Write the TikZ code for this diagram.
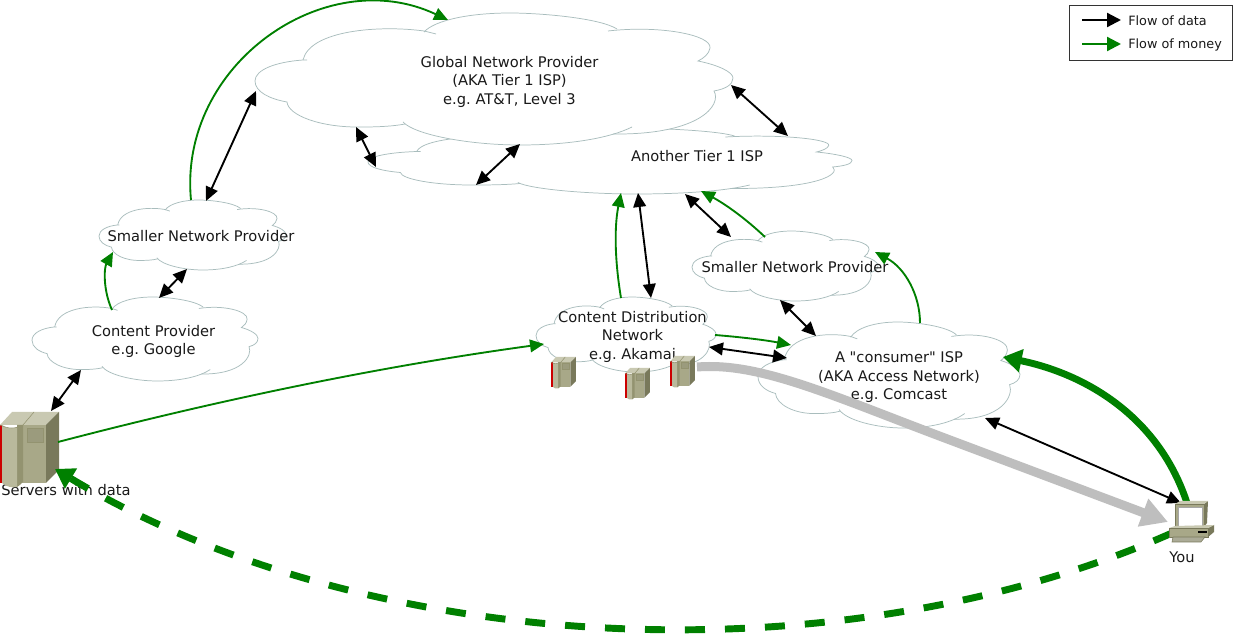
\documentclass[tikz,border=0pt]{standalone}
\usepackage{fontspec}
\setmainfont[Ligatures=TeXOff]{DejaVu Sans}
\frenchspacing
\usetikzlibrary{arrows.meta}
\definecolor{cloudline}{HTML}{A9BDBD}
\definecolor{money}{HTML}{008000}
\definecolor{pipe}{HTML}{BEBEBE}
\definecolor{sTop}{HTML}{C9C9B2}
\definecolor{sSide}{HTML}{79795B}
\definecolor{sFront}{HTML}{A8A888}
\definecolor{sLight}{HTML}{B9B99C}
\definecolor{sDark}{HTML}{939370}
\definecolor{sRed}{HTML}{CC0000}
\tikzset{
  x=0.75pt,y=-0.75pt,
  lbl/.style={font=\fontsize{11}{13.9}\selectfont,align=center,inner sep=0pt,text=black!90},
  smalllbl/.style={font=\fontsize{9.6}{11}\selectfont,anchor=west,inner sep=0pt,text=black!90},
  data/.style={draw=black,line width=1.4pt,{Triangle[length=10.5pt,width=9.5pt]}-{Triangle[length=10.5pt,width=9.5pt]}},
  cash/.style={draw=money,line width=1.4pt,-{Triangle[length=10.5pt,width=9.5pt]}},
  bigcash/.style={draw=money,line width=5.2pt,-{Triangle[length=14pt,width=17pt]}},
  pipeflow/.style={draw=pipe,line width=6.75pt,-{Triangle[length=20pt,width=21pt]}},
  cloudedge/.style={draw=cloudline,line width=0.55pt},
  pcedge/.style={draw=sSide,line width=0.4pt},
}
\newcommand{\netcloud}[4]{%
\begin{scope}[shift={(#1,#2)},xscale={(#3-#1)/478},yscale={(#4-#2)/132},shift={(-255,-13)}]
\path[fill=white] (303,60) .. controls (275,62) and (255,70) .. (255,81)
 .. controls (255,92) and (270,99) .. (287,102)
 .. controls (288,115) and (320,128) .. (363,127)
 .. controls (380,127) and (395,126) .. (403,124)
 .. controls (415,135) and (470,145) .. (520,145)
 .. controls (570,145) and (610,138) .. (625,131)
 .. controls (700,135) and (722,105) .. (714,91)
 .. controls (725,89) and (733,85) .. (733,78)
 .. controls (733,72) and (718,65) .. (698,61)
 .. controls (704,58) and (709,54) .. (710,48)
 .. controls (712,35) and (660,25) .. (617,29)
 .. controls (600,18) and (540,13) .. (510,13)
 .. controls (470,13) and (435,20) .. (424,32)
 .. controls (380,25) and (310,30) .. (303,60) -- cycle;
\draw[cloudedge] (307,60) -- (303,60) .. controls (275,62) and (255,70) .. (255,81)
 .. controls (255,92) and (270,99) .. (287,102)
 .. controls (288,115) and (320,128) .. (363,127)
 .. controls (380,127) and (395,126) .. (405,124);
\draw[cloudedge] (403,122) .. controls (415,135) and (470,145) .. (520,145)
 .. controls (570,145) and (610,138) .. (632,127);
\draw[cloudedge] (613,134) .. controls (700,135) and (722,105) .. (714,91)
 .. controls (725,89) and (733,85) .. (733,78)
 .. controls (733,72) and (718,65) .. (698,61)
 .. controls (704,58) and (709,54) .. (710,48)
 .. controls (712,35) and (660,25) .. (608,31);
\draw[cloudedge] (617,29) .. controls (600,18) and (540,13) .. (510,13)
 .. controls (470,13) and (435,20) .. (424,32);
\draw[cloudedge] (436,34) -- (424,31) .. controls (380,25) and (310,30) .. (303,60);
\end{scope}}
\newcommand{\srv}[4]{% left, top, scale, red width
\begin{scope}[shift={(#1,#2)},scale=#3]
\fill[sTop] (0,13) -- (12,0) -- (59,0) -- (46,13) -- cycle;
\fill[sSide] (46,13) -- (59,0) -- (59,58) -- (46,71) -- cycle;
\fill[sFront] (17,13) rectangle (46,71);
\fill[sDark] (17,13) -- (23,13) -- (23,70) .. controls (21,72) and (19,74) .. (17,75) -- cycle;
\fill[sLight] (#4,13) .. controls (8,17) and (12,17) .. (17,15) -- (17,75) .. controls (12,76) and (7,75) .. (#4,71) -- cycle;
\fill[sRed] (0,13) rectangle (#4,71);
\draw[sDark,line width=0.5pt,fill=sFront!92!black] (27,16) rectangle (43,30);
\draw[sDark,line width=0.4pt] (0,13) .. controls (8,17) and (16,17) .. (23,13) -- (34,0);
\end{scope}}
\begin{document}
\begin{tikzpicture}
\useasboundingbox (0,0) rectangle (1233,634);
\path[fill=white] (0,0) rectangle (1233,634);

% clouds
\netcloud{368}{128}{852}{194}
\netcloud{255}{13}{733}{145}
\netcloud{99}{200}{286}{270}
\netcloud{32}{297}{258}{381}
\netcloud{536}{297}{716}{372}
\netcloud{692}{231}{878}{301}
\netcloud{758}{322}{1020}{428}

% labels
\node[lbl] (global) at (509.5,81.5) {Global Network Provider\\(AKA Tier 1 ISP)\\e.g. AT\&T, Level 3};
\node[lbl] (tierb) at (697,156.5) {Another Tier 1 ISP};
\node[lbl] (small) at (201,236.5) {Smaller Network Provider};
\node[lbl] (smallb) at (795,267.5) {Smaller Network Provider};
\node[lbl] (content) at (153.5,341.5) {Content Provider\\e.g. Google};
\node[lbl] (cdn) at (632.5,336.5) {Content Distribution\\Network\\e.g. Akamai};
\node[lbl] (isp) at (899,377.5) {A "consumer" ISP\\(AKA Access Network)\\e.g. Comcast};
\node[lbl] (servers) at (66,490) {Servers with data};
\node[lbl] (you) at (1182,557) {You};

% connector ends
\coordinate (srvA) at (51,411);  \coordinate (cpA) at (81,370);
\coordinate (cpB) at (159,298);  \coordinate (snA) at (187,269);
\coordinate (snB) at (206,201);  \coordinate (glA) at (256,91);
\coordinate (glB) at (356,127);  \coordinate (t2A) at (376,167);
\coordinate (t2B) at (476,185);  \coordinate (glC) at (520,144);
\coordinate (glD) at (731,85);   \coordinate (t2C) at (788,136);
\coordinate (t2D) at (638,193);  \coordinate (cdA) at (651,298);
\coordinate (t2E) at (685,194);  \coordinate (s2A) at (731,237);
\coordinate (s2B) at (780,300);  \coordinate (isA) at (816,336);
\coordinate (cdB) at (709,347);  \coordinate (isB) at (787,358);
\coordinate (isC) at (985,418);  \coordinate (pcA) at (1181,503);
\coordinate (snC) at (191,200);  \coordinate (glE) at (448,20);
\coordinate (cpC) at (112,310);  \coordinate (snD) at (113,252);
\coordinate (srvB) at (58,442);  \coordinate (cdC) at (544,344);
\coordinate (cdD) at (621,298);  \coordinate (t2F) at (621,193);
\coordinate (cdE) at (715,335);  \coordinate (isD) at (791,345);
\coordinate (isE) at (920,323);  \coordinate (s2C) at (875,252);
\coordinate (s2D) at (765,237);  \coordinate (t2G) at (701,191);
\coordinate (pcB) at (1187,503); \coordinate (isF) at (1003,357);
\coordinate (pcC) at (1172,533); \coordinate (srvC) at (55,469);
\coordinate (cdF) at (697,367);  \coordinate (pcD) at (1168,522);

% pipe
\draw[pipeflow] (cdF) .. controls (760,362) and (830,395) .. (950,440) -- (pcD);

% servers
\srv{0}{412}{1}{2}
\srv{551}{357}{0.42}{4.5}
\srv{625}{368}{0.42}{4.5}
\srv{670}{356}{0.42}{4.5}

% data
\draw[data] (srvA) -- (cpA);
\draw[data] (cpB) -- (snA);
\draw[data] (snB) -- (glA);
\draw[data] (glB) -- (t2A);
\draw[data] (t2B) -- (glC);
\draw[data] (glD) -- (t2C);
\draw[data] (t2D) -- (cdA);
\draw[data] (t2E) -- (s2A);
\draw[data] (s2B) -- (isA);
\draw[data] (cdB) -- (isB);
\draw[data] (isC) -- (pcA);

% money
\draw[cash] (snC) .. controls (178,65) and (325,-38) .. (glE);
\draw[cash] (cpC) .. controls (103,290) and (104,268) .. (snD);
\draw[cash] (srvB) .. controls (230,397) and (390,365) .. (cdC);
\draw[cash] (cdD) .. controls (615,262) and (614,228) .. (t2F);
\draw[cash] (cdE) .. controls (740,337) and (765,340) .. (isD);
\draw[cash] (isE) .. controls (920,295) and (905,268) .. (s2C);
\draw[cash] (s2D) .. controls (745,218) and (725,204) .. (t2G);
\draw[bigcash] (pcB) .. controls (1160,420) and (1090,375) .. (isF);
\draw[bigcash,dash pattern=on 15pt off 15pt] (pcC) .. controls (840,680) and (370,658) .. (srvC);

% computer
\fill[sSide] (1204,504) -- (1208,501) -- (1207,523) -- (1204,527) -- cycle;
\fill[sTop] (1175,504) -- (1180,501) -- (1208,501) -- (1204,504) -- cycle;
\fill[sFront,pcedge] (1175,504) rectangle (1204,528);
\fill[white,draw=black!35,line width=0.5pt] (1178,507) rectangle (1202,526);
\fill[sSide] (1208,528) -- (1214,525) -- (1214,532) -- (1208,537) -- cycle;
\fill[sTop] (1169,528) -- (1175,526) -- (1214,525) -- (1208,528) -- cycle;
\fill[sFront,pcedge] (1169,528) rectangle (1208,537);
\fill[black] (1198,531) rectangle (1207,533);
\fill[sTop!85!black,pcedge] (1173,537) -- (1205,537) -- (1201,542) -- (1172,542) -- cycle;

% legend
\draw[black!80,fill=white,line width=0.7pt] (1069,5) rectangle (1232,60);
\node[smalllbl] (ldata) at (1128,20.5) {Flow of data};
\node[smalllbl] (lmoney) at (1128,44.5) {Flow of money};
\coordinate (la) at (1082,20); \coordinate (lb) at (1121,20);
\coordinate (lc) at (1082,44); \coordinate (ld) at (1121,44);
\draw[line width=1.7pt,-{Triangle[length=10.5pt,width=10.5pt]}] (la) -- (lb);
\draw[money,line width=1.7pt,-{Triangle[length=10.5pt,width=10.5pt]}] (lc) -- (ld);
\end{tikzpicture}
\end{document}
